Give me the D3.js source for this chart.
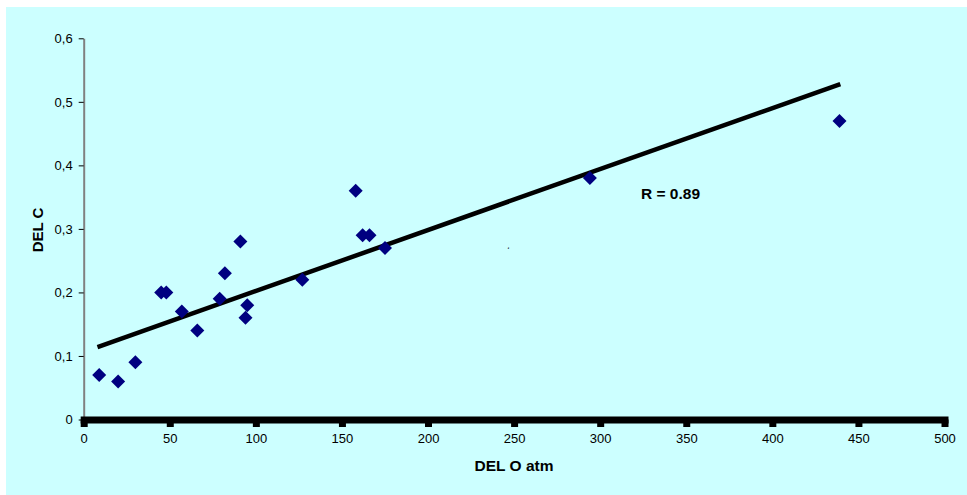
<!DOCTYPE html>
<html>
<head>
<meta charset="utf-8">
<script src="https://cdn.jsdelivr.net/npm/d3@7"></script>
<style>
  body { margin: 0; background: #fff; }
  svg { display: block; font-family: "Liberation Sans", Arial, sans-serif; }
</style>
</head>
<body>
<svg id="chart"></svg>
<script>
// Data
const delO = [9, 20, 30, 45, 48, 57, 66, 79, 82, 91, 94, 95, 127, 158, 162, 166, 175, 294, 439];
const delC = [0.07, 0.06, 0.09, 0.20, 0.20, 0.17, 0.14, 0.19, 0.23, 0.28, 0.16, 0.18, 0.22, 0.36, 0.29, 0.29, 0.27, 0.38, 0.47];
// trend line end points (x, y)
const trendX = [8, 439.5];
const trendY = [0.114, 0.528];
const xTicks = [0, 50, 100, 150, 200, 250, 300, 350, 400, 450, 500];
const yTicks = [0, 0.1, 0.2, 0.3, 0.4, 0.5, 0.6];
const rLabel = "R = 0.89";

const width = 967, height = 495;
const margin = {top: 38.3, right: 22.5, bottom: 75.5, left: 83.7};

const svg = d3.select("#chart")
  .attr("width", width)
  .attr("height", height);

// plot area background
svg.append("rect")
  .attr("x", 6).attr("y", 7)
  .attr("width", width - 6).attr("height", height - 7)
  .attr("fill", "#ccffff");

const x = d3.scaleLinear([0, 500], [margin.left, width - margin.right]);
const y = d3.scaleLinear([0, 0.6], [height - margin.bottom, margin.top]);

// y axis
const yAxis = svg.append("g")
  .attr("transform", `translate(${margin.left},0)`)
  .call(d3.axisLeft(y)
    .tickValues(yTicks)
    .tickSize(5)
    .tickSizeOuter(0)
    .tickPadding(6)
    .tickFormat(d => d === 0 ? "0" : d3.format(".1f")(d).replace(".", ",")));
yAxis.select(".domain").attr("stroke", "#808080").attr("stroke-width", 2);
yAxis.selectAll(".tick line").attr("stroke", "#000");
yAxis.selectAll(".tick text").attr("font-size", 13).attr("fill", "#000")
  .attr("font-family", "Liberation Sans, Arial, sans-serif");

// trend line
svg.append("line")
  .attr("x1", x(trendX[0])).attr("y1", y(trendY[0]))
  .attr("x2", x(trendX[1])).attr("y2", y(trendY[1]))
  .attr("stroke", "#000")
  .attr("stroke-width", 4.5);

// points
const diamond = d3.symbol().type(d3.symbolSquare).size(98);
svg.append("g")
  .selectAll("path")
  .data(delO.map((d, i) => [d, delC[i]]))
  .join("path")
  .attr("d", diamond)
  .attr("transform", d => `translate(${x(d[0])},${y(d[1])}) rotate(45)`)
  .attr("fill", "#000080");

// x axis
const xAxis = svg.append("g")
  .attr("transform", `translate(0,${y(0)})`)
  .call(d3.axisBottom(x)
    .tickValues(xTicks)
    .tickSize(7.5)
    .tickSizeOuter(0)
    .tickPadding(6.5)
    .tickFormat(d3.format("d")));
xAxis.select(".domain")
  .attr("stroke", "#000")
  .attr("stroke-width", 7)
  .attr("stroke-linecap", "square");
xAxis.selectAll(".tick line").attr("stroke", "#000").attr("stroke-width", 7);
xAxis.selectAll(".tick text").attr("font-size", 13).attr("fill", "#000")
  .attr("font-family", "Liberation Sans, Arial, sans-serif");

// axis titles
svg.append("text")
  .attr("x", 514).attr("y", 471)
  .attr("text-anchor", "middle")
  .attr("font-size", 15.5).attr("font-weight", "bold")
  .text("DEL O atm");

svg.append("text")
  .attr("transform", "translate(43,230) rotate(-90)")
  .attr("text-anchor", "middle")
  .attr("font-size", 15).attr("font-weight", "bold")
  .text("DEL C");

// correlation label
svg.append("text")
  .attr("x", 641).attr("y", 199)
  .attr("font-size", 15.5).attr("font-weight", "bold")
  .text(rLabel);

// small stray mark in the original
svg.append("text")
  .attr("x", 507).attr("y", 253)
  .attr("font-size", 9).attr("font-style", "italic")
  .attr("fill", "#222")
  .text("‘");
</script>
</body>
</html>
